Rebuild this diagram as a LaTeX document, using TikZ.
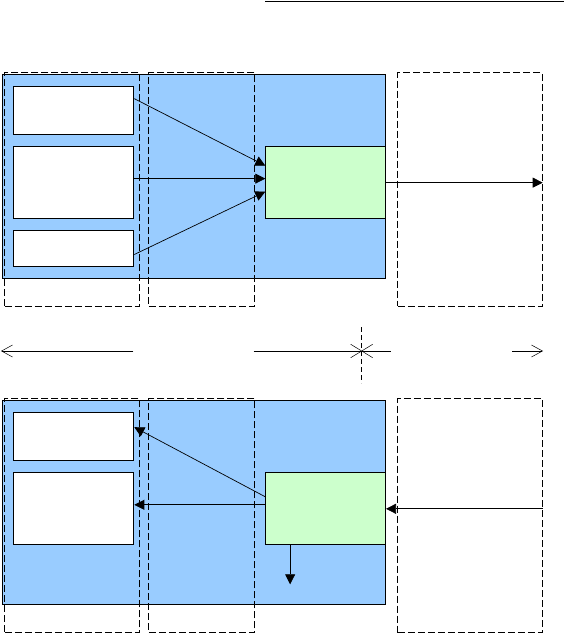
\documentclass[tikz,border=0pt]{standalone}
\usetikzlibrary{positioning}
\usetikzlibrary{arrows.meta}
\definecolor{panelblue}{HTML}{99CCFF}
\definecolor{stagegreen}{HTML}{CCFFCC}

\begin{document}
\begin{tikzpicture}
      [x=1pt,y=-1pt,line width=1pt,
       panel/.style={draw,fill=panelblue,anchor=north west,inner sep=0,minimum width=383.3pt},
       zone/.style={draw,dash pattern=on 7pt off 3pt,anchor=north west,inner sep=0,minimum height=233.5pt},
       slot/.style={draw,fill=white,anchor=north west,inner sep=0,minimum width=120pt},
       stage/.style={draw,fill=stagegreen,anchor=north west,inner sep=0,minimum width=119.7pt,minimum height=72.3pt},
       tip/.style={line width=0.7pt,-{Triangle[length=10pt,width=10pt]}},
       barb/.style={line width=0.7pt,-{Straight Barb[length=11pt,width=12pt,line width=0.5pt]}}]
    \useasboundingbox (0,0) rectangle (564,634);

    % top half
    \node[panel,minimum height=204.3pt] (panelT) at (1.7,74) {};
    \node[zone,minimum width=135pt]   (zoneT1) at (4.3,72) {};
    \node[zone,minimum width=106pt]   (zoneT2) at (148.3,72) {};
    \node[zone,minimum width=144.4pt] (outT)   at (397.3,72.3) {};
    \node[slot,minimum height=48.3pt] (inA) at (13.3,86) {};
    \node[slot,minimum height=72.3pt] (inB) at (13.3,146) {};
    \node[slot,minimum height=36pt]   (inC) at (13.3,230.3) {};
    \node[stage] (gT) at (265.3,146) {};

    \path [tip] ([yshift=12pt]inA.east) edge ([yshift=17pt]gT.west)
                ([yshift=4pt]inB.east) edge ([yshift=4pt]gT.west)
                ([yshift=-5.7pt]inC.east) edge ([yshift=-9pt]gT.west)
                (gT.east) edge (gT.east -| outT.east);

    % bottom half
    \node[panel,minimum height=203.7pt] (panelB) at (1.7,400.3) {};
    \node[zone,minimum width=135pt]   (zoneB1) at (4.3,398.3) {};
    \node[zone,minimum width=106pt]   (zoneB2) at (148.3,398.3) {};
    \node[zone,minimum width=144.4pt,minimum height=234pt] (outB) at (397.3,398) {};
    \node[slot,minimum height=48pt] (inD) at (13.3,412.3) {};
    \node[slot,minimum height=72pt] (inE) at (13.3,472.3) {};
    \node[stage,minimum height=72pt] (gB) at (265.3,472.3) {};

    \path [tip] ([yshift=12pt]gB.west) edge ([yshift=9.6pt]inD.east)
                ([yshift=4pt]gB.west) edge ([yshift=4pt]inE.east)
                ([xshift=-35.5pt]gB.south) edge ([xshift=-35.5pt,yshift=-39pt]gB.south)
                (outB.east |- gB.east) edge (gB.east);

    % middle row and rule
    \coordinate (ruleL) at (265,2);
    \coordinate (ruleR) at (564,2);
    \draw (ruleL) -- (ruleR);
    \coordinate (leftStart) at (133.3,351);
    \coordinate (leftEnd) at (1,351);
    \coordinate (midA) at (253.7,351);
    \coordinate (midB) at (391,351);
    \coordinate (rightStart) at (512,351);
    \coordinate (rightEnd) at (543,351);
    \coordinate (cross) at (361.7,351);
    \draw [barb] (leftStart) -- (leftEnd);
    \draw [line width=0.7pt] (midA) -- (midB);
    \draw [barb] (rightStart) -- (rightEnd);
    \draw [line width=0.6pt,dash pattern=on 5pt off 3pt] ([yshift=23.7pt]cross) -- ([yshift=-32.3pt]cross);
    \draw [line width=0.5pt] (cross) ++(-11,-6.7) -- ++(22,13.4)
                             (cross) ++(-11,6.7) -- ++(22,-13.4);
\end{tikzpicture}
\end{document}
